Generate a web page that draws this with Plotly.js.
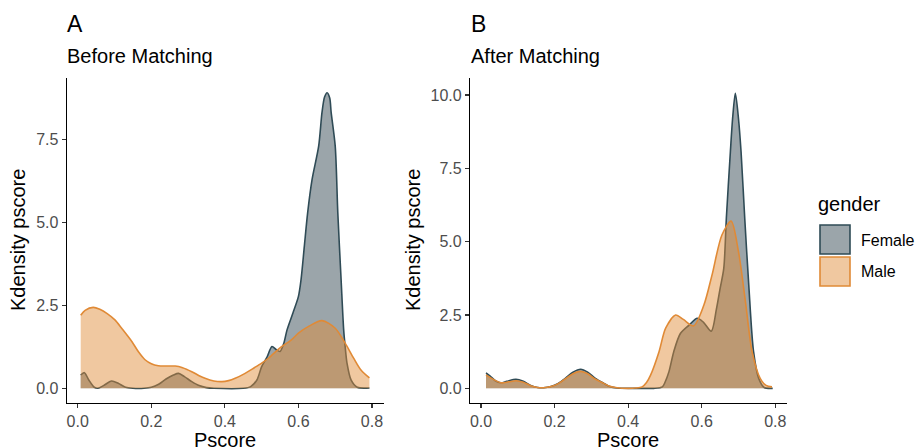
<!DOCTYPE html>
<html>
<head>
<meta charset="utf-8">
<script src="https://cdn.plot.ly/plotly-3.0.1.min.js"></script>
<style>html,body{margin:0;padding:0;background:#fff;}#chart{width:919px;height:448px;}</style>
</head>
<body>
<div id="chart"></div>
<script>
// ---- Data ----
var beforeFemaleX = [0.008,0.018,0.03,0.045,0.055,0.07,0.092,0.11,0.13,0.15,0.18,0.20,0.22,0.24,0.26,0.274,0.29,0.31,0.33,0.35,0.37,0.45,0.47,0.487,0.50,0.515,0.528,0.54,0.55,0.56,0.569,0.585,0.60,0.607,0.616,0.625,0.637,0.655,0.664,0.671,0.678,0.685,0.689,0.70,0.707,0.716,0.723,0.727,0.732,0.743,0.76,0.793];
var beforeFemaleY = [0.40,0.47,0.25,0.03,0.0,0.08,0.22,0.15,0.03,0.0,0.0,0.03,0.12,0.28,0.40,0.45,0.35,0.20,0.08,0.02,0.0,0.0,0.05,0.25,0.65,0.95,1.26,1.16,1.11,1.35,1.76,2.27,2.77,3.27,4.28,5.29,6.29,7.30,8.31,8.78,8.91,8.75,8.31,7.30,5.29,3.27,1.76,1.26,0.76,0.25,0.03,0.01];

var beforeMaleX = [0.008,0.02,0.042,0.06,0.08,0.101,0.12,0.147,0.165,0.183,0.20,0.219,0.24,0.265,0.285,0.31,0.33,0.346,0.37,0.392,0.41,0.428,0.455,0.48,0.50,0.52,0.55,0.58,0.60,0.63,0.664,0.70,0.727,0.75,0.77,0.793];
var beforeMaleY = [2.20,2.35,2.44,2.38,2.25,2.06,1.80,1.41,1.10,0.86,0.74,0.68,0.67,0.67,0.62,0.50,0.38,0.30,0.22,0.20,0.23,0.30,0.45,0.62,0.76,0.92,1.22,1.45,1.66,1.88,2.04,1.81,1.36,0.91,0.55,0.31];

var afterFemaleX = [0.0136,0.025,0.04,0.054,0.07,0.095,0.115,0.135,0.154,0.17,0.19,0.21,0.23,0.25,0.271,0.29,0.31,0.334,0.35,0.37,0.45,0.47,0.493,0.50,0.511,0.524,0.542,0.565,0.588,0.605,0.626,0.64,0.65,0.66,0.667,0.678,0.684,0.6915,0.70,0.707,0.717,0.728,0.741,0.755,0.77,0.793];
var afterFemaleY = [0.53,0.42,0.25,0.19,0.24,0.31,0.24,0.10,0.03,0.02,0.06,0.17,0.35,0.55,0.65,0.55,0.35,0.17,0.06,0.01,0.0,0.0,0.05,0.20,0.57,1.25,1.87,2.15,2.39,2.25,1.95,2.7,3.4,4.09,5.80,8.07,9.2,10.06,9.2,8.07,5.80,3.52,1.25,0.34,0.03,0.0];

var afterMaleX = [0.0136,0.03,0.054,0.075,0.095,0.115,0.135,0.154,0.17,0.19,0.21,0.23,0.25,0.271,0.29,0.31,0.334,0.35,0.37,0.40,0.42,0.438,0.45,0.461,0.484,0.502,0.529,0.55,0.578,0.606,0.628,0.655,0.68,0.70,0.719,0.737,0.759,0.775,0.791];
var afterMaleY = [0.46,0.33,0.19,0.22,0.26,0.21,0.09,0.03,0.02,0.06,0.16,0.33,0.50,0.58,0.50,0.32,0.17,0.07,0.02,0.0,0.01,0.05,0.20,0.45,1.25,2.05,2.50,2.35,2.13,2.84,3.86,5.23,5.70,4.66,2.95,1.25,0.34,0.10,0.05];

var xTicks = [0, 0.2, 0.4, 0.6, 0.8];
var xTickText = ["0.0","0.2","0.4","0.6","0.8"];
var yTicksA = [0, 2.5, 5, 7.5];
var yTickTextA = ["0.0","2.5","5.0","7.5"];
var yTicksB = [0, 2.5, 5, 7.5, 10];
var yTickTextB = ["0.0","2.5","5.0","7.5","10.0"];
var groups = ["Female","Male"];

// ---- Styles ----
var femaleLine = "#2f4b56", femaleFill = "rgba(55,75,85,0.5)";
var maleLine = "#e08a36", maleFill = "rgba(224,140,57,0.48)";
var FONT = "Liberation Sans, Arial, Helvetica, sans-serif";

function area(x, y, line, fill, xa, ya, name) {
  return {x: x, y: y, type: "scatter", mode: "lines", name: name,
    xaxis: xa, yaxis: ya, fill: "tozeroy", fillcolor: fill,
    line: {color: line, width: 1.6, shape: "spline", smoothing: 0.8},
    showlegend: false, hoverinfo: "skip"};
}

var traces = [
  area(beforeFemaleX, beforeFemaleY, femaleLine, femaleFill, "x", "y", groups[0]),
  area(beforeMaleX, beforeMaleY, maleLine, maleFill, "x", "y", groups[1]),
  area(afterFemaleX, afterFemaleY, femaleLine, femaleFill, "x2", "y2", groups[0]),
  area(afterMaleX, afterMaleY, maleLine, maleFill, "x2", "y2", groups[1])
];

function xax(domain) {
  return {domain: domain, range: [-0.03, 0.832], tickvals: xTicks, ticktext: xTickText,
    showline: true, linecolor: "#000", linewidth: 1.1, ticks: "outside", ticklen: 4,
    tickcolor: "#333", tickwidth: 1.1, showgrid: false, zeroline: false,
    tickfont: {family: FONT, size: 16, color: "#4d4d4d"}, fixedrange: true};
}
function yax(range, tv, tt, anchor) {
  return {domain: [0.1004, 0.8252], range: range, tickvals: tv, ticktext: tt, anchor: anchor,
    showline: true, linecolor: "#000", linewidth: 1.1, ticks: "outside", ticklen: 4,
    tickcolor: "#333", tickwidth: 1.1, showgrid: false, zeroline: false,
    tickfont: {family: FONT, size: 16, color: "#4d4d4d"}, fixedrange: true};
}

var W = 919, H = 448;
function px(x) { return x / W; }
function py(y) { return 1 - y / H; }
function ann(text, x, y, size, opts) {
  var a = {text: text, xref: "paper", yref: "paper", x: px(x), y: py(y), showarrow: false,
    font: {family: FONT, size: size, color: "#000"}, xanchor: "left", yanchor: "middle"};
  for (var k in opts) a[k] = opts[k];
  return a;
}

var annotations = [
  ann("A", 65, 24, 23, {}),
  ann("Before Matching", 65, 56, 20, {}),
  ann("B", 469, 24, 23, {}),
  ann("After Matching", 469, 56, 20, {}),
  ann("Kdensity pscore", 18, 240, 20, {xanchor: "center", textangle: -90}),
  ann("Kdensity pscore", 413, 240, 20, {xanchor: "center", textangle: -90}),
  ann("Pscore", 225, 440, 20, {xanchor: "center"}),
  ann("Pscore", 628, 440, 20, {xanchor: "center"}),
  ann("gender", 816, 204, 20, {}),
  ann(groups[0], 859, 240, 16, {}),
  ann(groups[1], 859, 271, 16, {})
];

var shapes = [
  {type: "rect", xref: "paper", yref: "paper", x0: px(820), x1: px(850), y0: py(225), y1: py(254),
   fillcolor: "#9ba5aa", line: {color: femaleLine, width: 1.6}},
  {type: "rect", xref: "paper", yref: "paper", x0: px(820), x1: px(850), y0: py(257), y1: py(286),
   fillcolor: "#f0c8a0", line: {color: maleLine, width: 1.6}}
];

var layout = {
  width: W, height: H, margin: {l: 0, r: 0, t: 0, b: 0},
  paper_bgcolor: "#fff", plot_bgcolor: "#fff", showlegend: false,
  xaxis: xax([0.0726, 0.4176]), yaxis: yax([-0.445, 9.345], yTicksA, yTickTextA, "x"),
  xaxis2: xax([0.5114, 0.8564]), yaxis2: yax([-0.5, 10.57], yTicksB, yTickTextB, "x2"),
  annotations: annotations, shapes: shapes, font: {family: FONT}
};
layout.xaxis.anchor = "y";
layout.xaxis2.anchor = "y2";

Plotly.newPlot("chart", traces, layout, {displayModeBar: false, staticPlot: true});
</script>
</body>
</html>
